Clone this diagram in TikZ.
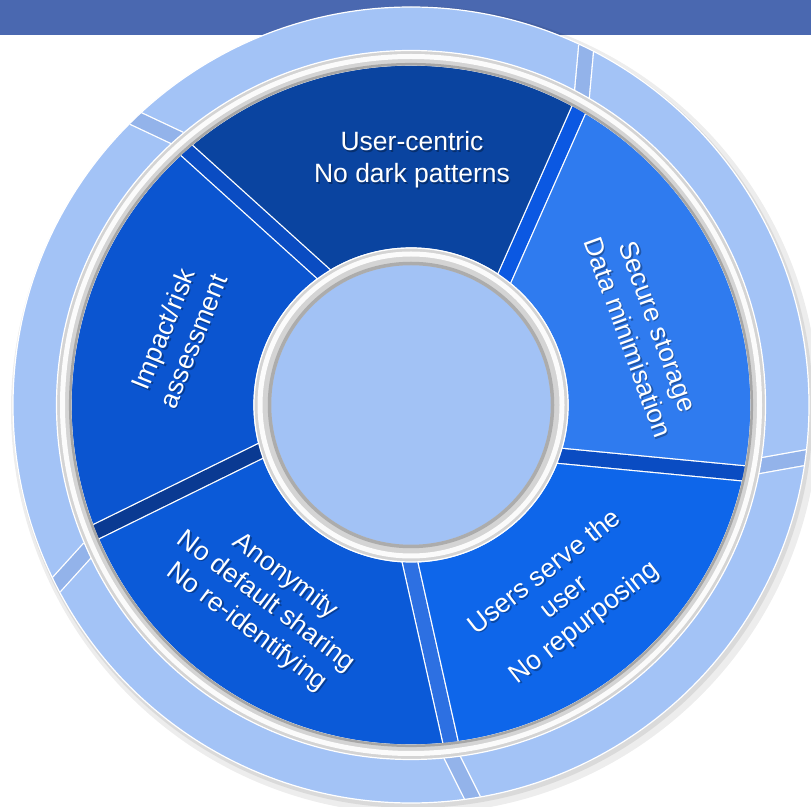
\documentclass[tikz,border=0pt]{standalone}
\usepackage{fontspec}
\setmainfont{Liberation Sans}

\definecolor{banner}{HTML}{4A68B0}
\definecolor{ringblue}{HTML}{A3C3F6}
\definecolor{ringgap}{HTML}{93B3EA}
\definecolor{hubblue}{HTML}{A2C2F5}
\definecolor{tubegrey}{HTML}{D4D4D4}
\definecolor{segtop}{HTML}{0A44A0}
\definecolor{segright}{HTML}{2F7BEF}
\definecolor{segbr}{HTML}{0E66EA}
\definecolor{segbl}{HTML}{0B5AD8}
\definecolor{segleft}{HTML}{0B55D0}
\definecolor{gapdark}{HTML}{0A3A92}
\definecolor{gapmid}{HTML}{0A4CC2}
\definecolor{gaplight}{HTML}{2D70E2}
\definecolor{gapbright}{HTML}{0B58E2}

\tikzset{
  seg/.style={fill=#1, draw=white, line width=1.2pt},
  gapstrip/.style={draw=white, line width=1.3pt, double=#1, double distance=14pt},
  tube/.style={draw=tubegrey, line width=#1},
  lbl/.style={text=white, align=center, inner sep=0pt,
    font=\fontsize{26.5}{32}\selectfont},
  lblshadow/.style={lbl, text=black, opacity=.3},
}

% label with a soft drop shadow
\newcommand{\seglabel}[4]{%
  \node[lblshadow, xshift=1.5pt, yshift=-1.5pt, rotate=#3] (#1-sh) at (#2) {#4};
  \node[lbl, rotate=#3] (#1) at (#2) {#4};
}

\begin{document}
\begin{tikzpicture}[x=1pt, y=1pt]
\useasboundingbox (0,0) rectangle (811,806);
\fill[white] (0,0) rectangle (811,806);

% title bar
\fill[banner] (0,771) rectangle (811,806);

\begin{scope}[shift={(411,401)}]
% shadow under the wheel
\fill[black, opacity=.07] (4,-5) circle[radius=404];
\fill[black, opacity=.08] (2,-3) circle[radius=400];

% outer ring
\fill[ringblue] (0,0) circle[radius=398];
\begin{scope}
  \clip (0,0) circle[radius=398];
  \foreach \a/\b in {61/64, 131/134, 204/207, 276.5/279, 350/352.5}
    \draw[gapstrip=ringgap] (\a:352) -- (\b:400);
\end{scope}
\draw[white, line width=1.2pt] (0,0) circle[radius=398];

% segments
\path[seg=segright] (-19.5:157) arc[start angle=-19.5, end angle=53, radius=157]
  -- (60.5:340) arc[start angle=60.5, end angle=-11.5, radius=340] -- cycle;
\path[seg=segtop] (53:157) arc[start angle=53, end angle=123, radius=157]
  -- (131.5:340) arc[start angle=131.5, end angle=60.5, radius=340] -- cycle;
\path[seg=segleft] (123:157) arc[start angle=123, end angle=196.5, radius=157]
  -- (202:340) arc[start angle=202, end angle=131.5, radius=340] -- cycle;
\path[seg=segbl] (196.5:157) arc[start angle=196.5, end angle=269, radius=157]
  -- (276.8:340) arc[start angle=276.8, end angle=202, radius=340] -- cycle;
\path[seg=segbr] (269:157) arc[start angle=269, end angle=340.5, radius=157]
  -- (348.5:340) arc[start angle=348.5, end angle=276.8, radius=340] -- cycle;

% gaps between segments
\draw[gapstrip=gapbright] (53:150) -- (60.5:346);
\draw[gapstrip=gapmid] (123:150) -- (131.5:346);
\draw[gapstrip=gapdark] (196.5:150) -- (202:346);
\draw[gapstrip=gaplight] (269:150) -- (276.8:346);
\draw[gapstrip=gapmid] (340.5:150) -- (348.5:346);

% grey tube round the segments
\draw[tube=15pt] (0,0) circle[radius=347];
\draw[white!90!tubegrey, line width=5pt] (0,0) circle[radius=348.5];
\draw[gray!70, line width=2.5pt] (0,0) circle[radius=340.8];
\draw[white, line width=1.2pt] (0,0) circle[radius=354.5];

% hub
\fill[hubblue] (0,0) circle[radius=140];
\draw[tube=17pt] (0,0) circle[radius=148.5];
\draw[white!90!tubegrey, line width=5pt] (0,0) circle[radius=151];
\draw[gray!65, line width=3.5pt] (0,0) circle[radius=141.5];
\draw[white, line width=1.2pt] (0,0) circle[radius=157];

% labels
\seglabel{usercentric}{1,245}{0}{User-centric\\No dark patterns}
\seglabel{secure}{232,73}{-70}{Secure storage\\Data minimisation}
\seglabel{impact}{-233,70}{68}{Impact/risk\\assessment}
\seglabel{anonymity}{-145,-197}{-37}{Anonymity\\No default sharing\\No re-identifying}
\seglabel{serve}{154,-193}{38}{Users serve the\\user\\No repurposing}
\end{scope}
\end{tikzpicture}
\end{document}
